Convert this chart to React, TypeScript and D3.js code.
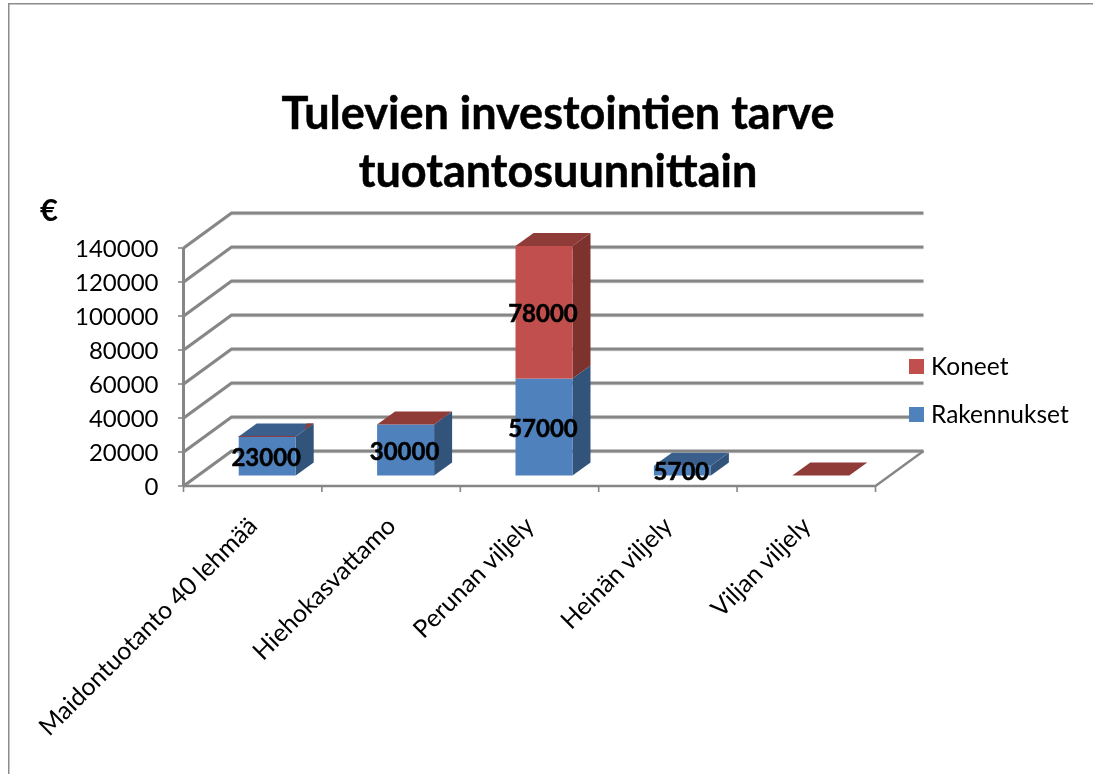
import React from "react";
import * as d3 from "d3";

const categories = ["Maidontuotanto 40 lehmää", "Hiehokasvattamo", "Perunan viljely", "Heinän viljely", "Viljan viljely"];
const rakennukset = [23000, 30000, 57000, 5700, 0];
const koneet = [0, 0, 78000, 0, 0];
const topColourSeries = ["Rakennukset", "Koneet", "Koneet", "Rakennukset", "Koneet"];
const yTicks = [0, 20000, 40000, 60000, 80000, 100000, 120000, 140000];
const rakLabels = ["23000", "30000", "57000", "5700", ""];
const koneLabels = ["", "", "78000", "", ""];
const legendNames = ["Koneet", "Rakennukset"];

const W = 1093, H = 774;
const FONT = "Lato, 'Open Sans', sans-serif";
const GRID = "#868686";
const x = d3.scaleBand<string>().domain(categories).range([183.5, 875.5]);
const h = d3.scaleLinear().domain([0, 140000]).range([0, 238]);
const yFront = (v: number) => 486 - h(v);
const DX = 48, DY = -35;
const blue = { front: "#4f81bd", side: "#31527a", top: "#3a5f8c" };
const red = { front: "#c0504d", side: "#7d322f", top: "#8f3a38" };

const pts = (a: number[][]) => a.map((p) => p.join(",")).join(" ");

function Box({ x0, w, y0, y1, c }: any) {
  const dx = 18, dy = -13;
  return (
    <g>
      <polygon points={pts([[x0 + w, y0], [x0 + w + dx, y0 + dy], [x0 + w + dx, y1 + dy], [x0 + w, y1]])} fill={c.side} />
      <rect x={x0} y={y1} width={w} height={Math.max(0, y0 - y1)} fill={c.front} />
    </g>
  );
}

export default function App() {
  const bw = 57, offX = 14.5, base = 475.5;
  return (
    <svg width={W} height={H} style={{ position: "absolute", left: 0, top: 0, background: "#fff" }}>
      <defs>
        <filter id="soft" x="0" y="0" width="100%" height="100%">
          <feGaussianBlur stdDeviation="0.4" />
        </filter>
      </defs>
      <g filter="url(#soft)">
        <path d={`M8.5,${H} V3.5 H${W}`} fill="none" stroke="#8c8c8c" strokeWidth={2} />
        <text textAnchor="middle" fontFamily={FONT} fontWeight={700} fontSize={45} fill="#000" stroke="#000" strokeWidth={0.5}>
          <tspan x={558} y={128.5}>Tulevien investointien tarve</tspan>
          <tspan x={558} y={186.5}>tuotantosuunnittain</tspan>
        </text>
        <text x={49} y={221} textAnchor="middle" fontFamily={FONT} fontWeight={700} fontSize={31}>€</text>
        {yTicks.map((t) => (
          <g key={t} fill="none" strokeLinecap="butt">
            <path d={`M${183.5},${yFront(t) + 1.5} L${183.5 + DX},${yFront(t) + DY + 1.5} H${875.5 + DX}`} stroke="#d4d4d4" strokeWidth={1.5} />
            <path d={`M${183.5},${yFront(t)} L${183.5 + DX},${yFront(t) + DY} H${875.5 + DX}`} stroke={GRID} strokeWidth={2.8} />
            <path d={`M178,${yFront(t)} H183.5`} stroke={GRID} strokeWidth={1.6} />
            <text x={158.5} y={yFront(t) + 9} textAnchor="end" fontFamily={FONT} fontSize={24} fill="#000" stroke="none">{t}</text>
          </g>
        ))}
        <g stroke={GRID} fill="none">
          <path d={`M183.5,${yFront(140000)} V486`} strokeWidth={3} />
          <path d="M183.5,486 H875.5 L923.5,451" strokeWidth={2.4} />
          <path d="M183.5,486 V492" strokeWidth={1.6} />
          {categories.map((c) => {
            const r = (x(c) as number) + x.bandwidth();
            return <path key={c} d={`M${r},486 V492`} strokeWidth={1.6} />;
          })}
        </g>
        {categories.map((c, i) => {
          const x0 = (x(c) as number) + x.bandwidth() / 2 + offX - bw / 2;
          const yR = base - h(rakennukset[i]);
          const yK = yR - h(koneet[i]);
          const topC = topColourSeries[i] === "Koneet" ? red : blue;
          return (
            <g key={c}>
              {rakennukset[i] > 0 && <Box x0={x0} w={bw} y0={base} y1={yR} c={blue} />}
              {koneet[i] > 0 && <Box x0={x0} w={bw} y0={yR} y1={yK} c={red} />}
              <polygon points={pts([[x0, yK], [x0 + 18, yK - 13], [x0 + bw + 18, yK - 13], [x0 + bw, yK]])} fill={topC.top} />
              {i === 0 && <path d={`M${x0},${yK} H${x0 + bw}`} stroke={red.top} strokeWidth={1} />}
              {i === 0 && <polygon points={pts([[x0 + bw + 9, yK - 6.5], [x0 + bw + 18, yK - 13], [x0 + bw + 11, yK - 13]])} fill={red.top} />}
            </g>
          );
        })}
        {categories.map((c, i) => {
          const cx = (x(c) as number) + x.bandwidth() / 2 + offX - 1;
          const yR = base - h(rakennukset[i]);
          const yK = yR - h(koneet[i]);
          return (
            <g key={c} fontFamily={FONT} fontWeight={700} fontSize={24} textAnchor="middle" fill="#000" stroke="#000" strokeWidth={0.5}>
              {rakLabels[i] && <text x={cx} y={(yR + base) / 2 + 9.8}>{rakLabels[i]}</text>}
              {koneLabels[i] && <text x={cx} y={(yK + yR) / 2 + 9.8}>{koneLabels[i]}</text>}
            </g>
          );
        })}
        {categories.map((c) => {
          const cx = (x(c) as number) + x.bandwidth() / 2 + 6;
          return (
            <text key={c} transform={`translate(${cx},527.5) rotate(-45)`} textAnchor="end" fontFamily={FONT} fontSize={24.8} fill="#000">{c}</text>
          );
        })}
        {legendNames.map((n, i) => (
          <g key={n}>
            <rect x={909} y={359 + i * 48} width={15} height={15} fill={n === "Koneet" ? red.front : blue.front} />
            <text x={931} y={374.5 + i * 48} fontFamily={FONT} fontSize={24.5} fill="#000">{n}</text>
          </g>
        ))}
      </g>
    </svg>
  );
}
